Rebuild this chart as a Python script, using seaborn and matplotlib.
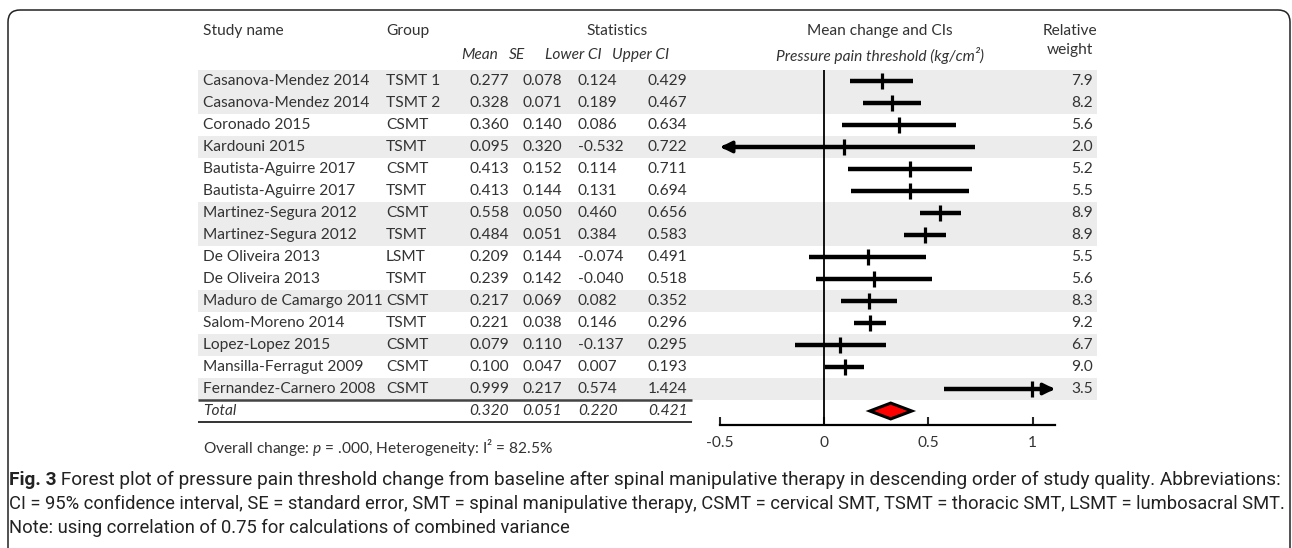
import numpy as np
import pandas as pd
import matplotlib
matplotlib.use("Agg")
import matplotlib.pyplot as plt
from matplotlib.patches import FancyBboxPatch, Polygon
import seaborn as sns

sns.set_theme(style="white")
plt.rcParams["font.family"] = ["Lato", "DejaVu Sans"]
plt.rcParams["mathtext.fontset"] = "custom"
plt.rcParams["mathtext.rm"] = "Lato"
plt.rcParams["mathtext.it"] = "Lato:italic"

# data
studies = ["Casanova-Mendez 2014", "Casanova-Mendez 2014", "Coronado 2015", "Kardouni 2015",
           "Bautista-Aguirre 2017", "Bautista-Aguirre 2017", "Martinez-Segura 2012",
           "Martinez-Segura 2012", "De Oliveira 2013", "De Oliveira 2013",
           "Maduro de Camargo 2011", "Salom-Moreno 2014", "Lopez-Lopez 2015",
           "Mansilla-Ferragut 2009", "Fernandez-Carnero 2008"]
groups = ["TSMT 1", "TSMT 2", "CSMT", "TSMT", "CSMT", "TSMT", "CSMT", "TSMT", "LSMT",
          "TSMT", "CSMT", "TSMT", "CSMT", "CSMT", "CSMT"]
means = [0.277, 0.328, 0.360, 0.095, 0.413, 0.413, 0.558, 0.484, 0.209, 0.239, 0.217,
         0.221, 0.079, 0.100, 0.999]
ses = [0.078, 0.071, 0.140, 0.320, 0.152, 0.144, 0.050, 0.051, 0.144, 0.142, 0.069,
       0.038, 0.110, 0.047, 0.217]
lowers = [0.124, 0.189, 0.086, -0.532, 0.114, 0.131, 0.460, 0.384, -0.074, -0.040, 0.082,
          0.146, -0.137, 0.007, 0.574]
uppers = [0.429, 0.467, 0.634, 0.722, 0.711, 0.694, 0.656, 0.583, 0.491, 0.518, 0.352,
          0.296, 0.295, 0.193, 1.424]
weights = [7.9, 8.2, 5.6, 2.0, 5.2, 5.5, 8.9, 8.9, 5.5, 5.6, 8.3, 9.2, 6.7, 9.0, 3.5]
total = {"mean": 0.320, "se": 0.051, "lower": 0.220, "upper": 0.421}
xticks = [-0.5, 0, 0.5, 1]
xtick_labels = ["-0.5", "0", "0.5", "1"]

df = pd.DataFrame({"study": studies, "group": groups, "mean": means, "se": ses,
                   "lower": lowers, "upper": uppers, "weight": weights})
df["row"] = np.arange(len(df))
block = (df["study"] != df["study"].shift()).cumsum() - 1
df["shade"] = block % 2 == 0

# layout (pixels)
W, H = 1292, 548
ROW0, DY = 81, 22.0
X0, XS = 824, 208.5          # pixel of x=0, pixels per unit
CLIP_LO, CLIP_HI = -0.51, 1.12
TXT = "#333333"

fig = plt.figure(figsize=(W / 100, H / 100), dpi=100)
bg = fig.add_axes([0, 0, 1, 1])
bg.set_xlim(0, W)
bg.set_ylim(H, 0)
bg.axis("off")

def ypix(r):
    return ROW0 + DY * r

# frame
bg.add_patch(FancyBboxPatch((8, 10), 1282, 700, boxstyle="round,pad=0,rounding_size=12",
                            fill=False, ec="#222222", lw=1.1))

# row shading
for _, r in df[df["shade"]].iterrows():
    bg.fill_between([198, 1097], ypix(r["row"]) - DY / 2, ypix(r["row"]) + DY / 2,
                    color="#ececec", lw=0, zorder=0)

fs = 11.2
hdr = dict(fontsize=fs, color=TXT, va="center")
bg.text(203, 31, "Study name", ha="left", **hdr)
bg.text(386, 31, "Group", ha="left", **hdr)
bg.text(617, 31, "Statistics", ha="center", **hdr)
bg.text(880, 31, "Mean change and CIs", ha="center", **hdr)
bg.text(1070, 31, "Relative", ha="center", **hdr)
bg.text(1070, 50, "weight", ha="center", **hdr)
it = dict(fontsize=fs, color=TXT, va="center", style="italic")
bg.text(498, 55, "Mean", ha="right", **it)
bg.text(509, 55, "SE", ha="left", **it)
bg.text(545, 55, "Lower CI", ha="left", **it)
bg.text(612, 55, "Upper CI", ha="left", **it)
bg.text(880, 55, "Pressure pain threshold (kg/cm²)", ha="center", **it)

cell = dict(fontsize=fs, color=TXT, va="center")
for _, r in df.iterrows():
    y = ypix(r["row"])
    bg.text(203, y, r["study"], ha="left", **cell)
    bg.text(386, y, r["group"], ha="left", **cell)
    bg.text(509, y, f"{r['mean']:.3f}", ha="right", **cell)
    bg.text(562, y, f"{r['se']:.3f}", ha="right", **cell)
    bg.text(578, y, f"{r['lower']:.3f}", ha="left", **cell)
    bg.text(648, y, f"{r['upper']:.3f}", ha="left", **cell)
    bg.text(1093, y, f"{r['weight']:.1f}", ha="right", **cell)

ty = ypix(len(df))
bg.text(203, ty, "Total", ha="left", **it)
bg.text(509, ty, f"{total['mean']:.3f}", ha="right", **it)
bg.text(562, ty, f"{total['se']:.3f}", ha="right", **it)
bg.text(578, ty, f"{total['lower']:.3f}", ha="left", **it)
bg.text(648, ty, f"{total['upper']:.3f}", ha="left", **it)
bg.hlines(ty - DY / 2, 198, 692, color="#444444", lw=1.8)
bg.hlines(ty + DY / 2, 198, 692, color="#111111", lw=1.2)

bg.text(203, 447, "Overall change: $\\it{p}$ = .000, Heterogeneity: I² = 82.5%",
        ha="left", fontsize=fs, color=TXT, va="center")

# forest plot axes, aligned to the table rows
left_px, right_px, top_px, bot_px = 700, 1110, 60, 470
ax = fig.add_axes([left_px / W, 1 - bot_px / H, (right_px - left_px) / W, (bot_px - top_px) / H])
ax.patch.set_alpha(0)
ax.set_xlim((left_px - X0) / XS, (right_px - X0) / XS)
ax.set_ylim((bot_px - ROW0) / DY, (top_px - ROW0) / DY)
axis_row = len(df) + 0.62

ax.vlines(0, -0.5, axis_row, color="black", lw=1.3)
for _, r in df.iterrows():
    lo, hi = max(r["lower"], CLIP_LO), min(r["upper"], CLIP_HI)
    if r["lower"] < CLIP_LO:
        ax.hlines(r["row"], lo + 0.03, hi, color="black", lw=3.2)
        ax.annotate("", xy=(lo, r["row"]), xytext=(lo + 0.06, r["row"]),
                    arrowprops=dict(arrowstyle="-|>", color="black", lw=2.5, mutation_scale=17))
    elif r["upper"] > CLIP_HI:
        ax.hlines(r["row"], lo, hi - 0.03, color="black", lw=3.2)
        ax.annotate("", xy=(hi, r["row"]), xytext=(hi - 0.06, r["row"]),
                    arrowprops=dict(arrowstyle="-|>", color="black", lw=2.5, mutation_scale=17))
    else:
        ax.hlines(r["row"], lo, hi, color="black", lw=3.2)
sns.scatterplot(data=df, x="mean", y="row", marker="|", s=130, color="black",
                linewidth=2.3, ax=ax, zorder=5, legend=False)

ty_r = len(df)
ax.add_patch(Polygon([(total["lower"], ty_r), (total["mean"], ty_r - 0.36),
                      (total["upper"], ty_r), (total["mean"], ty_r + 0.36)],
                     closed=True, fc="#ff0000", ec="black", lw=2.2, zorder=6))

for s in ["left", "right", "top"]:
    ax.spines[s].set_visible(False)
ax.spines["bottom"].set_position(("data", axis_row))
ax.spines["bottom"].set_bounds(-0.5, 1.11)
ax.spines["bottom"].set_color("black")
ax.spines["bottom"].set_linewidth(1.6)
ax.set_xticks(xticks)
ax.set_xticklabels(xtick_labels)
ax.tick_params(axis="x", direction="in", length=6, width=1.5, pad=8, labelsize=fs,
               labelcolor=TXT, bottom=True)
ax.set_yticks([])
ax.set_xlabel("")
ax.set_ylabel("")

# caption, each full line fitted to the frame width
cap_font = ["Roboto", "DejaVu Sans"]
renderer = fig.canvas.get_renderer()
lines = [("Fig. 3", " Forest plot of pressure pain threshold change from baseline after spinal "
          "manipulative therapy in descending order of study quality. Abbreviations:"),
         ("", "CI = 95% confidence interval, SE = standard error, SMT = spinal manipulative "
          "therapy, CSMT = cervical SMT, TSMT = thoracic SMT, LSMT = lumbosacral SMT."),
         ("", "Note: using correlation of 0.75 for calculations of combined variance")]
cap_y = [480, 504, 528]
x_left, x_right = 9, 1281
base = 12
sizes = []
for b, rtxt in lines[:2]:
    w = 0
    if b:
        tb = fig.text(0, 0, b, fontsize=base, fontweight="bold", family=cap_font)
        w += tb.get_window_extent(renderer).width
        tb.remove()
    tr = fig.text(0, 0, rtxt, fontsize=base, family=cap_font)
    w += tr.get_window_extent(renderer).width
    tr.remove()
    sizes.append(base * (x_right - x_left) / w)
sizes.append(min(sizes))
for (b, rtxt), y, cfs in zip(lines, cap_y, sizes):
    x = x_left
    if b:
        t = bg.text(x, y, b, fontsize=cfs, fontweight="bold", family=cap_font, color="#222222",
                    va="center", ha="left")
        x += t.get_window_extent(renderer).width
    bg.text(x, y, rtxt, fontsize=cfs, family=cap_font, color="#222222", va="center", ha="left")

fig.savefig("out.png", dpi=100)
